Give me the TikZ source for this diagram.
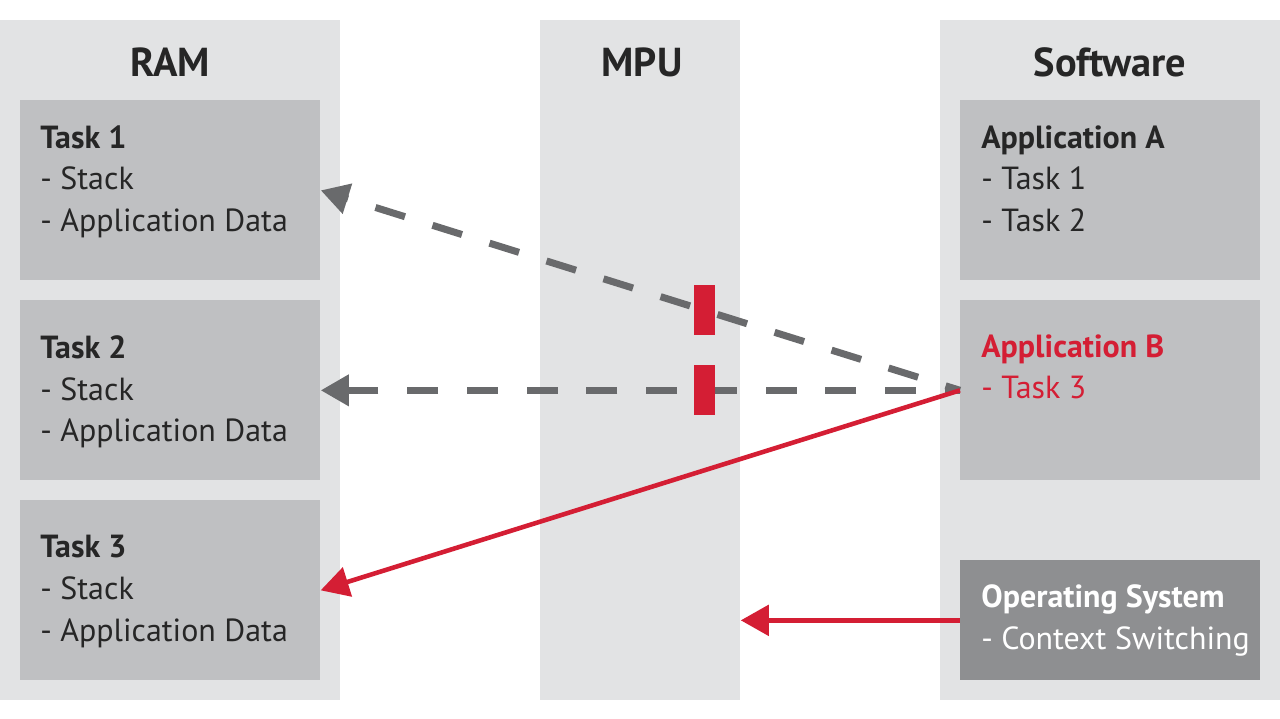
\documentclass[tikz,border=0pt]{standalone}
\usepackage{fontspec}
\setmainfont{PT Sans}
\usetikzlibrary{arrows.meta}

\definecolor{colbg}{RGB}{226,227,228}
\definecolor{boxgray}{RGB}{191,192,194}
\definecolor{osgray}{RGB}{142,143,145}
\definecolor{dashgray}{RGB}{105,106,108}
\definecolor{mpured}{RGB}{212,30,52}

\begin{document}
\begin{tikzpicture}[x=0.02cm,y=-0.02cm,
  column/.style={fill=colbg,inner sep=0,anchor=north west,minimum height=13.6cm},
  membox/.style={fill=boxgray,inner sep=0,anchor=north west,minimum width=6cm,minimum height=3.6cm},
  title/.style={anchor=base,font=\fontsize{23}{28}\selectfont\bfseries,text=black!85},
  txt/.style={anchor=north west,inner sep=0,align=left,font=\fontsize{18.2}{23.8}\selectfont,text=black!85},
  barrier/.style={fill=mpured,inner sep=0,minimum width=0.42cm,minimum height=1cm},
  denied/.style={draw=dashgray,line width=4pt,dash pattern=on 17.6pt off 16.4pt,dash phase=9pt,-{Triangle[length=16pt,width=17pt]}},
  allowed/.style={draw=mpured,line width=2.6pt,-{Triangle[length=16pt,width=17pt]}}]
\useasboundingbox (0,0) rectangle (1280,719);
% columns
\node[column,minimum width=6.8cm] (ram) at (0,20) {};
\node[column,minimum width=4cm] (mpu) at (540,20) {};
\node[column,minimum width=6.8cm] (sw) at (940,20) {};
\node[title] at (170,77) {RAM};
\node[title] at (642,77) {MPU};
\node[title] at (1110,77) {Software};
% RAM
\node[membox] (task1) at (20,100) {};
\node[membox] (task2) at (20,300) {};
\node[membox] (task3) at (20,500) {};
\node[txt] at (40,125) {\textbf{Task 1}\\- Stack\\- Application Data};
\node[txt] at (40,335) {\textbf{Task 2}\\- Stack\\- Application Data};
\node[txt] at (40,535) {\textbf{Task 3}\\- Stack\\- Application Data};
% Software
\node[membox] (appA) at (960,100) {};
\node[membox] (appB) at (960,300) {};
\node[membox,fill=osgray,minimum height=2.4cm] (os) at (960,560) {};
\node[txt] at (981,125) {\textbf{Application A}\\- Task 1\\- Task 2};
\node[txt,text=mpured] at (981,334) {\textbf{Application B}\\- Task 3};
\node[txt,text=white] at (981,584) {\textbf{Operating System}\\- Context Switching};
% accesses
\draw[denied] (appB.west) -- node[barrier,pos=0.4] (stop1) {} (task1.east);
\draw[denied] (appB.west) -- node[barrier,pos=0.4] (stop2) {} (task2.east);
\draw[allowed] (appB.west) -- (task3.east);
\draw[allowed,line width=3.2pt] (os.west) -- (mpu.east |- os.west);
\end{tikzpicture}
\end{document}
